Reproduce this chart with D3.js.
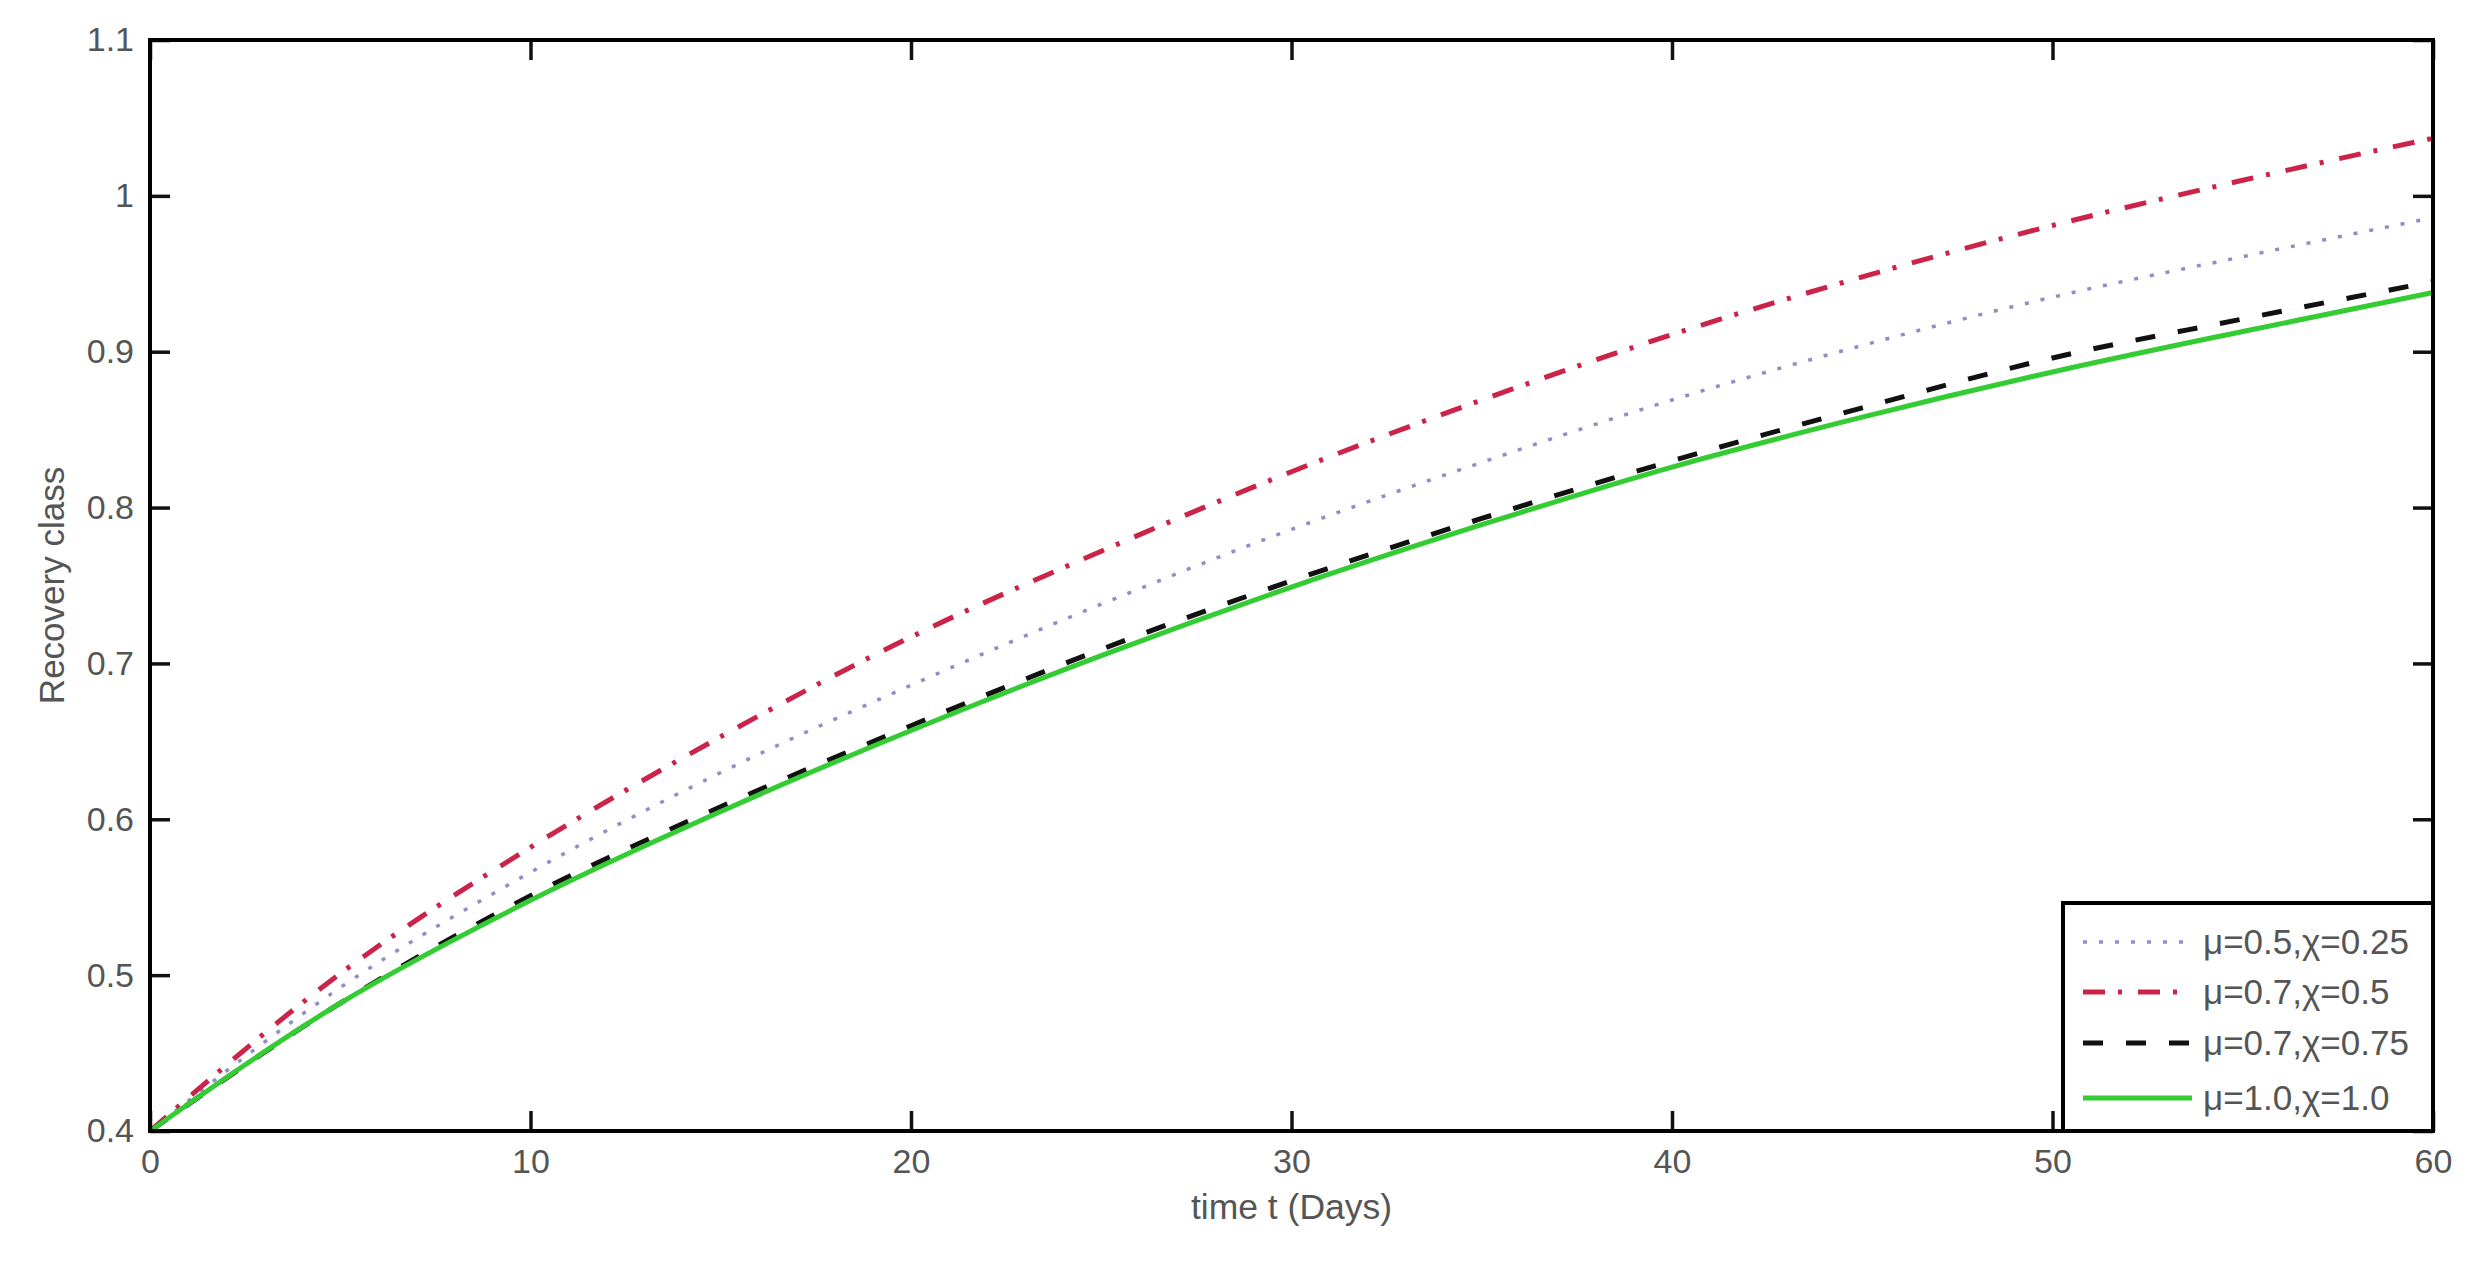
<!DOCTYPE html>
<html>
<head>
<meta charset="utf-8">
<script src="https://cdn.jsdelivr.net/npm/d3@7"></script>
<style>
  html, body { margin: 0; padding: 0; background: #fff; }
  svg { display: block; }
</style>
</head>
<body>
<svg id="chart" width="2481" height="1261"></svg>
<script>
// ---- data ----
const days = [0, 5, 10, 15, 20, 25, 30, 35, 40, 45, 50, 55, 60];
const seriesBlue  = [0.400, 0.492, 0.566, 0.630, 0.686, 0.738, 0.786, 0.829, 0.869, 0.904, 0.935, 0.961, 0.986];
const seriesRed   = [0.400, 0.501, 0.582, 0.653, 0.717, 0.772, 0.823, 0.869, 0.911, 0.948, 0.981, 1.010, 1.037];
const seriesBlack = [0.400, 0.482, 0.551, 0.608, 0.660, 0.709, 0.753, 0.793, 0.830, 0.864, 0.896, 0.921, 0.945];
const seriesGreen = [0.400, 0.482, 0.548, 0.605, 0.657, 0.705, 0.749, 0.789, 0.826, 0.858, 0.887, 0.913, 0.938];
const legendLabels = ["μ=0.5,χ=0.25", "μ=0.7,χ=0.5", "μ=0.7,χ=0.75", "μ=1.0,χ=1.0"];
const xTicks = [0, 10, 20, 30, 40, 50, 60];
const yTicks = [0.4, 0.5, 0.6, 0.7, 0.8, 0.9, 1.0, 1.1];
const xLabel = "time t (Days)";
const yLabel = "Recovery class";

// ---- layout ----
const W = 2481, H = 1261;
const m = { left: 150, right: 48, top: 40, bottom: 130 };
const iw = W - m.left - m.right, ih = H - m.top - m.bottom;
const font = "'Liberation Sans', Arial, sans-serif";
const textColor = "#555555";

const svg = d3.select("#chart");
const g = svg.append("g").attr("transform", `translate(${m.left},${m.top})`);

const x = d3.scaleLinear().domain([0, 60]).range([0, iw]);
const y = d3.scaleLinear().domain([0.4, 1.1]).range([ih, 0]);

const styles = [
  { data: seriesBlue,  color: "#8c90c4", width: 3.5, dash: "4,12" },
  { data: seriesRed,   color: "#cc2348", width: 5,   dash: "22,13,4,16" },
  { data: seriesBlack, color: "#111111", width: 5,   dash: "20,23" },
  { data: seriesGreen, color: "#33cc33", width: 5,   dash: null }
];

const line = d3.line()
  .x(d => x(d[0]))
  .y(d => y(d[1]))
  .curve(d3.curveMonotoneX);

g.append("defs").append("clipPath").attr("id", "clip")
  .append("rect").attr("width", iw).attr("height", ih);

const lines = g.append("g").attr("clip-path", "url(#clip)");
styles.forEach(s => {
  lines.append("path")
    .attr("d", line(days.map((d, i) => [d, s.data[i]])))
    .attr("fill", "none")
    .attr("stroke", s.color)
    .attr("stroke-width", s.width)
    .attr("stroke-dasharray", s.dash)
    .attr("stroke-linecap", "butt");
});

// ---- axes (ticks inward on all four sides) ----
function styleAxis(sel) {
  sel.selectAll(".domain").remove();
  sel.selectAll(".tick line").attr("stroke", "#111").attr("stroke-width", 3.5);
  sel.selectAll(".tick text")
    .attr("fill", textColor)
    .style("font-family", font)
    .style("font-size", "34px");
}

const yFmt = d => (d === 1 ? "1" : d3.format(".1f")(d));

g.append("g")
  .call(d3.axisLeft(y).tickValues(yTicks).tickSize(-20).tickPadding(16).tickFormat(yFmt))
  .call(styleAxis);

g.append("g").attr("transform", `translate(${iw},0)`)
  .call(d3.axisRight(y).tickValues(yTicks).tickSize(-20).tickFormat(""))
  .call(styleAxis);

g.append("g").attr("transform", `translate(0,${ih})`)
  .call(d3.axisBottom(x).tickValues(xTicks).tickSize(-20).tickPadding(18).tickFormat(d3.format("d")))
  .call(styleAxis);

g.append("g")
  .call(d3.axisTop(x).tickValues(xTicks).tickSize(-20).tickFormat(""))
  .call(styleAxis);

// frame
g.append("rect")
  .attr("width", iw).attr("height", ih)
  .attr("fill", "none").attr("stroke", "#000").attr("stroke-width", 4);

// axis labels
g.append("text")
  .attr("x", iw / 2).attr("y", ih + 88)
  .attr("text-anchor", "middle")
  .attr("fill", textColor)
  .style("font-family", font).style("font-size", "35.5px")
  .text(xLabel);

g.append("text")
  .attr("transform", `translate(${-m.left + 64},${ih / 2}) rotate(-90)`)
  .attr("text-anchor", "middle")
  .attr("fill", textColor)
  .style("font-family", font).style("font-size", "35px")
  .text(yLabel);

// ---- legend ----
const lg = { x0: 2063 - m.left, y0: 903 - m.top, w: iw - (2063 - m.left), h: ih - (903 - m.top) };
const leg = g.append("g");
leg.append("rect")
  .attr("x", lg.x0).attr("y", lg.y0).attr("width", lg.w).attr("height", lg.h)
  .attr("fill", "#fff").attr("stroke", "#000").attr("stroke-width", 4);

const rowY = [942, 992, 1043, 1098].map(v => v - m.top);
styles.forEach((s, i) => {
  leg.append("line")
    .attr("x1", 2083 - m.left).attr("x2", 2192 - m.left)
    .attr("y1", rowY[i]).attr("y2", rowY[i])
    .attr("stroke", s.color).attr("stroke-width", s.width)
    .attr("stroke-dasharray", s.dash);
  leg.append("text")
    .attr("x", 2203 - m.left).attr("y", rowY[i])
    .attr("dy", "0.35em")
    .attr("fill", textColor)
    .style("font-family", font).style("font-size", "35px")
    .text(legendLabels[i]);
});
</script>
</body>
</html>
